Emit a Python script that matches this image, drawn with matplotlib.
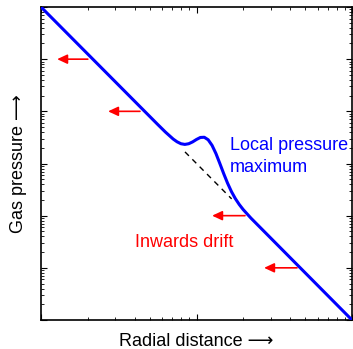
import numpy as np
import matplotlib
matplotlib.use('Agg')
import matplotlib.pyplot as plt

# 读取的数据 (log10 r, log10 P)
curve_log_r = [-1.0, -0.25, -0.20, -0.15, -0.125, -0.10, -0.075, -0.05, -0.025, 0.0,
               0.025, 0.05, 0.075, 0.10, 0.125, 0.15, 0.175, 0.20, 0.225, 0.25,
               0.275, 0.30, 0.35, 1.0]
curve_log_p = [3.0, 0.75, 0.603, 0.469, 0.416, 0.379, 0.366, 0.379, 0.414, 0.461,
               0.499, 0.503, 0.455, 0.348, 0.191, 0.001, -0.195, -0.379, -0.540, -0.674,
               -0.786, -0.882, -1.047, -3.0]

# 无扰动幂律 (虚线)
dash_log_r = [-0.074, 0.226]
dash_log_p = [0.222, -0.678]

# 向内漂移箭头
arrow_p = [100, 10, 0.1, 0.01]
arrow_r_tail = [0.200, 0.433, 2.05, 4.43]
arrow_r_head = [0.127, 0.270, 1.26, 2.72]

plt.rcParams['font.family'] = ['Liberation Sans', 'DejaVu Sans']

fig = plt.figure(figsize=(3.53, 3.49), dpi=100)
ax = fig.add_axes([41 / 353, 29 / 349, 311 / 353, 313 / 349])

ax.plot(10 ** np.array(curve_log_r), 10 ** np.array(curve_log_p), color='#0000ff', lw=2.2,
        solid_capstyle='butt', zorder=3)
ax.plot(10 ** np.array(dash_log_r), 10 ** np.array(dash_log_p), color='k', lw=1.0,
        dashes=(4, 3.5), zorder=2)

for p, rt, rh in zip(arrow_p, arrow_r_tail, arrow_r_head):
    ax.annotate('', xy=(rh, p), xytext=(rt, p),
                arrowprops=dict(arrowstyle='-|>,head_length=0.6,head_width=0.28',
                                color='#ff0000', lw=1.2, shrinkA=0, shrinkB=0))

ax.set_xscale('log')
ax.set_yscale('log')
ax.set_xlim(0.1, 10)
ax.set_ylim(1e-3, 1e3)

# 文字
ax.text(0.302, 0.233, 'Inwards drift', color='#ff0000', fontsize=13,
        transform=ax.transAxes, ha='left', va='baseline')
ax.text(0.608, 0.543, 'Local pressure', color='#0000ff', fontsize=13,
        transform=ax.transAxes, ha='left', va='baseline')
ax.text(0.608, 0.473, 'maximum', color='#0000ff', fontsize=13,
        transform=ax.transAxes, ha='left', va='baseline')

ax.set_xlabel('Radial distance \u27f6', fontsize=13, labelpad=9)
ax.set_ylabel('Gas pressure \u27f6', fontsize=13, labelpad=10)

# 刻度
ax.tick_params(which='both', direction='in', top=True, right=True,
               labelbottom=False, labelleft=False)
ax.tick_params(which='major', length=4, width=0.8)
ax.tick_params(which='minor', length=2, width=0.6)
for s in ax.spines.values():
    s.set_linewidth(1.2)

fig.savefig('out.png', dpi=100)
